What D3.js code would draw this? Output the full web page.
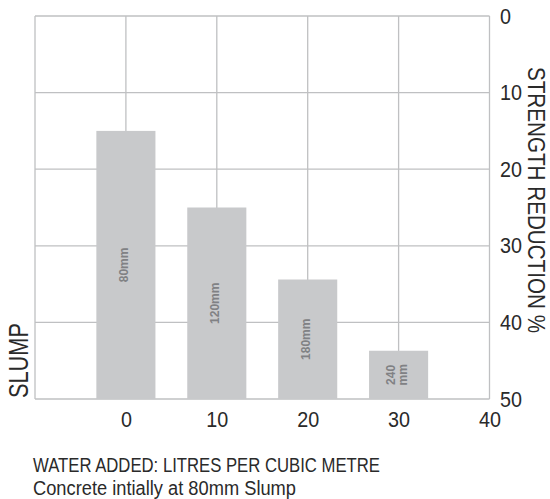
<!DOCTYPE html>
<html>
<head>
<meta charset="utf-8">
<script src="https://d3js.org/d3.v7.min.js"></script>
<style>
  body { margin: 0; background: #fff; }
  svg { display: block; }
  text { font-family: "Liberation Sans", Arial, sans-serif; fill: #2a2a2a; }
  .grid line { stroke: #bfc0c2; stroke-width: 1.3px; }
  .bar { fill: #c8c9cb; }
  .barlabel { font-weight: bold; font-size: 12px; fill: #808184; }
  .axis text { font-size: 22px; fill: #2a2a2a; font-family: "Liberation Sans", Arial, sans-serif; }
  .axis path, .axis line { display: none; }
</style>
</head>
<body>
<script>
// water added (litres per cubic metre)
const waterAdded = [0, 10, 20, 30];
// strength reduction % (top of each bar)
const strengthReduction = [15, 25, 34.4, 43.7];
// slump written in each bar
const slumpLabels = [["80mm"], ["120mm"], ["180mm"], ["240", "mm"]];
const xTicks = [0, 10, 20, 30, 40];
const yTicks = [0, 10, 20, 30, 40, 50];

const width = 550, height = 499;
const plotLeft = 35, plotRight = 489.5, plotTop = 16, plotBottom = 399;

const svg = d3.select("body").append("svg")
  .attr("width", width)
  .attr("height", height);

const x = d3.scaleLinear().domain([-10, 40]).range([plotLeft, plotRight]);
const y = d3.scaleLinear().domain([0, 50]).range([plotTop, plotBottom]);

// grid
const grid = svg.append("g").attr("class", "grid");
grid.selectAll(".v")
  .data(d3.range(-10, 41, 10))
  .enter().append("line")
  .attr("x1", d => x(d)).attr("x2", d => x(d))
  .attr("y1", y(0)).attr("y2", y(50));
grid.selectAll(".h")
  .data(yTicks)
  .enter().append("line")
  .attr("x1", x(-10)).attr("x2", x(40))
  .attr("y1", d => y(d)).attr("y2", d => y(d));

// bars
const half = 3.25;
svg.selectAll(".bar")
  .data(waterAdded)
  .enter().append("rect")
  .attr("class", "bar")
  .attr("x", d => x(d - half))
  .attr("width", d => x(d + half) - x(d - half))
  .attr("y", (d, i) => y(strengthReduction[i]))
  .attr("height", (d, i) => y(50) - y(strengthReduction[i]));

// labels inside bars
waterAdded.forEach(function (d, i) {
  const cy = (y(strengthReduction[i]) + y(50)) / 2;
  const lines = slumpLabels[i];
  const lh = 11.7;
  const cx = x(d) - 2 - (lines.length - 1) * lh / 2;
  const t = svg.append("text")
    .attr("class", "barlabel")
    .attr("text-anchor", "middle")
    .attr("transform", "translate(" + cx + "," + cy + ") rotate(-90)");
  lines.forEach(function (s, j) {
    t.append("tspan")
      .attr("x", 0)
      .attr("y", j * lh)
      .attr("dy", "0.35em")
      .text(s);
  });
});

// condensed look for tick numbers
function narrow(sel) {
  sel.selectAll(".tick text")
    .attr("textLength", d => String(d).length * 11)
    .attr("lengthAdjust", "spacingAndGlyphs");
}

// y axis (right)
const yAxis = d3.axisRight(y).tickValues(yTicks).tickSize(0).tickPadding(0);
svg.append("g")
  .attr("class", "y axis")
  .attr("transform", "translate(500,0)")
  .call(yAxis)
  .call(narrow);

// x axis (bottom)
const xAxis = d3.axisBottom(x).tickValues(xTicks).tickSize(0).tickPadding(0);
svg.append("g")
  .attr("class", "x axis")
  .attr("transform", "translate(0,411)")
  .call(xAxis)
  .call(narrow);

// titles
svg.append("text")
  .text("STRENGTH REDUCTION %")
  .attr("font-size", 23)
  .attr("textLength", 266)
  .attr("lengthAdjust", "spacingAndGlyphs")
  .attr("transform", "translate(528,67) rotate(90)");

svg.append("text")
  .text("SLUMP")
  .attr("font-size", 27)
  .attr("textLength", 75)
  .attr("lengthAdjust", "spacingAndGlyphs")
  .attr("transform", "translate(28,398) rotate(-90)");

svg.append("text")
  .text("WATER ADDED: LITRES PER CUBIC METRE")
  .attr("font-size", 20)
  .attr("textLength", 347)
  .attr("lengthAdjust", "spacingAndGlyphs")
  .attr("x", 33)
  .attr("y", 472);

svg.append("text")
  .text("Concrete intially at 80mm Slump")
  .attr("font-size", 20)
  .attr("textLength", 263)
  .attr("lengthAdjust", "spacingAndGlyphs")
  .attr("x", 33)
  .attr("y", 495);
</script>
</body>
</html>
